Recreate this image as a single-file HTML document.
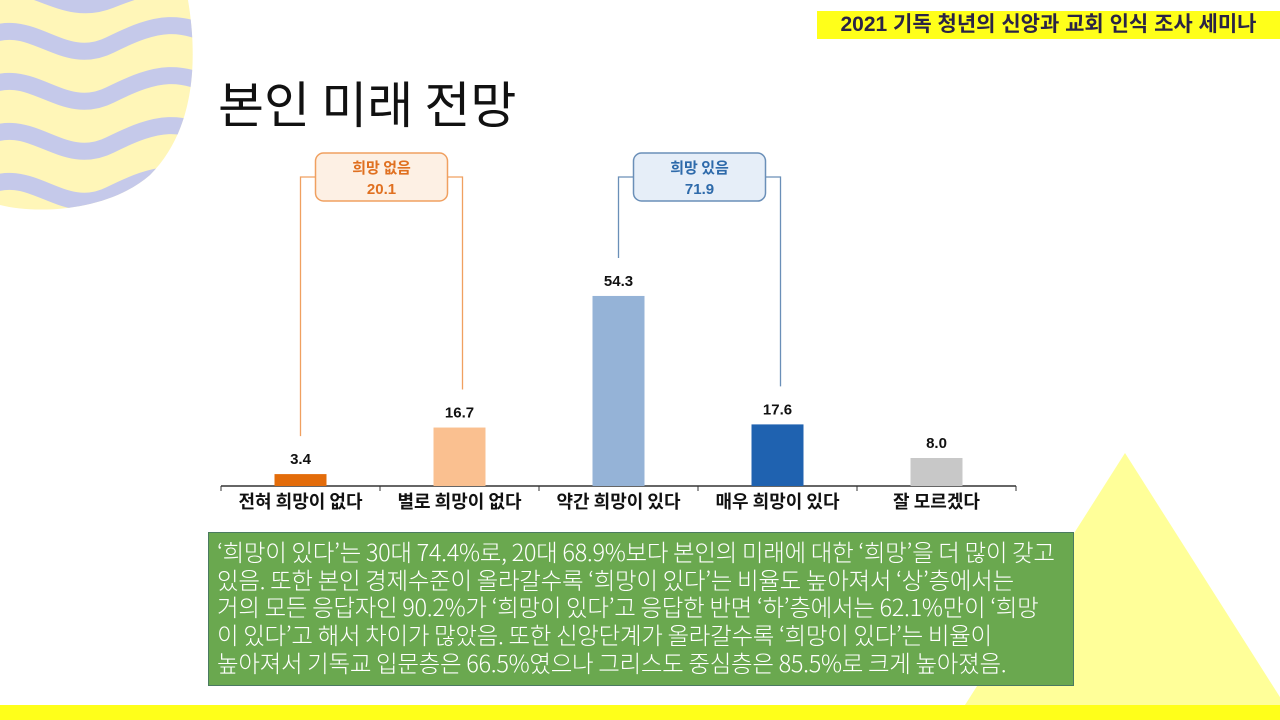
<!DOCTYPE html>
<html><head><meta charset="utf-8"><style>
body{margin:0;width:1280px;height:720px;overflow:hidden;background:#fff;position:relative;font-family:"Liberation Sans","Noto Sans CJK KR",sans-serif}
.abs{position:absolute}
#hdr{left:817px;top:11px;width:463px;height:28px;background:#ffff1a;color:#2a2346;font-size:21px;font-weight:bold;line-height:28px;text-align:center}
#title{left:218px;top:66px;font-size:50px;color:#111;font-family:"Noto Sans CJK KR",sans-serif;font-weight:400}
#note{left:208px;top:532px;width:866px;height:154px;background:#6aa84f;border:1px solid #4a7a60;color:#fff;font-family:"Noto Sans CJK KR",sans-serif;font-weight:300;font-size:23.5px;line-height:27.7px;padding:5px 0 0 8px;box-sizing:border-box;letter-spacing:-0.3px;white-space:nowrap}
</style></head><body>
<svg class="abs" style="left:0;top:0" width="1280" height="720">
<defs><clipPath id="cc"><path d="M0,0 L188,0 C198,60 195,130 150,175 C110,210 40,215 0,205 Z"/></clipPath></defs>
<g clip-path="url(#cc)">
<rect x="0" y="0" width="200" height="220" fill="#fff6b8"/>
<g fill="none" stroke="#c5c9ea" stroke-width="17">
<path d="M-20,-10 C30,-30 60,20 110,0 S180,-20 220,0"/>
<path d="M-20,40 C30,10 60,70 110,45 S180,20 220,40"/>
<path d="M-20,90 C30,60 60,120 110,95 S180,70 220,90"/>
<path d="M-20,140 C30,110 60,170 110,145 S180,120 220,140"/>
<path d="M-20,190 C30,160 60,220 110,195 S180,170 220,190"/>
</g></g>
<polygon points="1125,453 1285,705 965,705" fill="#ffff99"/>
<rect x="0" y="705" width="1280" height="15" fill="#ffff1a"/>
</svg>
<div id="hdr" class="abs">2021 기독 청년의 신앙과 교회 인식 조사 세미나</div>
<div id="title" class="abs">본인 미래 전망</div>
<svg id="chart" class="abs" style="left:0;top:0" width="1280" height="720"></svg>
<div id="note" class="abs">‘희망이 있다’는 30대 74.4%로, 20대 68.9%보다 본인의 미래에 대한 ‘희망’을 더 많이 갖고<br>있음. 또한 본인 경제수준이 올라갈수록 ‘희망이 있다’는 비율도 높아져서 ‘상’층에서는<br>거의 모든 응답자인 90.2%가 ‘희망이 있다’고 응답한 반면 ‘하’층에서는 62.1%만이 ‘희망<br>이 있다’고 해서 차이가 많았음. 또한 신앙단계가 올라갈수록 ‘희망이 있다’는 비율이<br>높아져서 기독교 입문층은 66.5%였으나 그리스도 중심층은 85.5%로 크게 높아졌음.</div>
<script>
const categories=["전혀 희망이 없다","별로 희망이 없다","약간 희망이 있다","매우 희망이 있다","잘 모르겠다"];
const values=[3.4,16.7,54.3,17.6,8.0];
const colors=["#e36c0a","#fac090","#95b3d7","#1f62b0","#c8c8c8"];
const groupLabels=["희망 없음","희망 있음"];
const groupValues=[20.1,71.9];
const NS="http://www.w3.org/2000/svg";
const svg=document.getElementById('chart');
const x0=221,x1=1016,baseY=486,scale=3.5,bw=52;
const step=(x1-x0)/categories.length;
const xc=i=>x0+step*(i+0.5);
const yv=v=>baseY-v*scale;
function mk(t,a){const e=document.createElementNS(NS,t);for(const k in a)e.setAttribute(k,a[k]);svg.appendChild(e);return e;}
let ax=mk('path',{d:`M${x0},${baseY}H${x1}`,stroke:'#333','stroke-width':1.5,fill:'none'});


for(let i=0;i<=categories.length;i++){let t=mk('line',{x1:x0+step*i,x2:x0+step*i,y1:baseY,y2:baseY+5,stroke:'#333'});

}
values.forEach((v,i)=>{
 let r=mk('rect',{x:xc(i)-bw/2,y:yv(v),width:bw,height:v*scale,fill:colors[i]});
 
 
 let l=mk('text',{x:xc(i),y:yv(v)-10,'text-anchor':'middle','font-size':15,'font-weight':'bold',fill:'#111'});
 l.textContent=v.toFixed(1);
 
 
 let c=mk('text',{x:xc(i),y:baseY+22,'text-anchor':'middle','font-size':18,'font-weight':'bold',fill:'#111','font-family':'"Noto Sans CJK KR",sans-serif'});
 c.textContent=categories[i];
 
 
});
const groups=[{a:0,b:1,stroke:'#f0a060',fill:'#fdf0e4',tc:'#e07020'},{a:2,b:3,stroke:'#6a8fb8',fill:'#e6eef8',tc:'#2e6aaa'}];
groups.forEach((g,k)=>{
 const la=xc(g.a),lb=xc(g.b)+3;const mid=(la+lb)/2;const bx=mid-66,by=153,bh=48;
 const ya=yv(values[g.a])-38,yb=yv(values[g.b])-38;
 let p=mk('path',{d:`M${la},${ya}V177H${bx}M${bx+132},177H${lb}V${yb}`,stroke:g.stroke,'stroke-width':1.3,fill:'none'});
 
 
 let r=mk('rect',{x:bx,y:by,width:132,height:bh,rx:8,fill:g.fill,stroke:g.stroke,'stroke-width':1.5});
 
 
 let t=mk('text',{x:mid,y:by+20,'text-anchor':'middle','font-size':15,'font-weight':'bold',fill:g.tc,'font-family':'"Noto Sans CJK KR",sans-serif'});
 t.textContent=groupLabels[k];
 
 
 let t2=mk('text',{x:mid,y:by+41,'text-anchor':'middle','font-size':15,'font-weight':'bold',fill:g.tc});
 t2.textContent=groupValues[k].toFixed(1);
 
 
});
</script>
</body></html>
